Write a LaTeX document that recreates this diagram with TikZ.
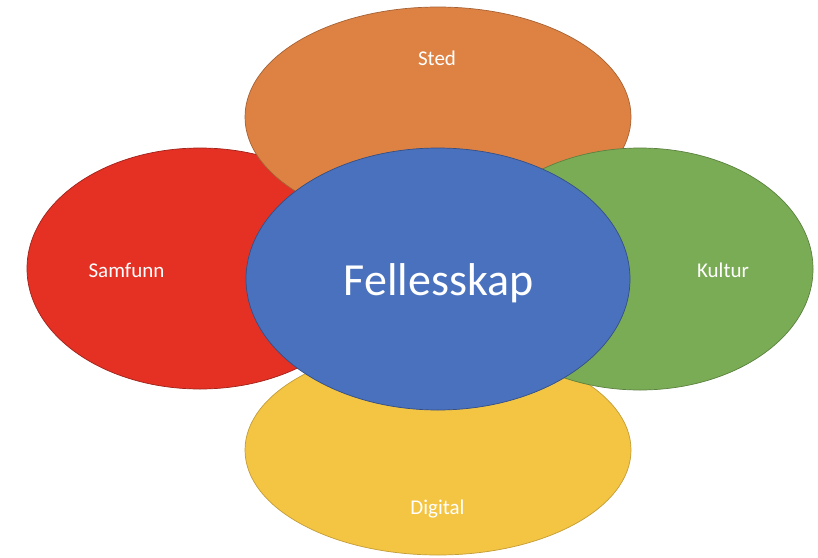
\documentclass[tikz,border=0pt]{standalone}
\usepackage{fontspec}
\setmainfont{Carlito}
\usetikzlibrary{shapes.geometric}
\definecolor{cOrange}{HTML}{DE8244}
\definecolor{cRed}{HTML}{E53024}
\definecolor{cGreen}{HTML}{7AAC55}
\definecolor{cBlue}{HTML}{4A71BE}
\definecolor{cYellow}{HTML}{F4C443}
\tikzset{
  blob/.style={ellipse, inner sep=0pt, line width=0.7pt},
  lbl/.style={anchor=base, text=white, font=\fontsize{21}{24}\selectfont, inner sep=0pt},
  biglbl/.style={anchor=base, text=white, font=\fontsize{46}{52}\selectfont, inner sep=0pt}
}
\begin{document}
\begin{tikzpicture}[x=1pt,y=-1pt]
\useasboundingbox (0,0) rectangle (818,557);
\fill[white] (0,0) rectangle (818,557);
\node[blob, fill=cYellow, draw=cYellow!80!black, minimum width=386pt, minimum height=210pt] (digital) at (438,450) {};
\node[blob, fill=cRed, draw=cRed!70!black, minimum width=346pt, minimum height=241pt] (samfunn) at (200,268.5) {};
\node[blob, fill=cOrange, draw=cOrange!75!black, minimum width=386pt, minimum height=220pt] (sted) at (438,117) {};
\node[blob, fill=cGreen, draw=cGreen!75!black, minimum width=346pt, minimum height=242pt] (kultur) at (640,269) {};
\node[blob, fill=cBlue, draw=cBlue!70!black, minimum width=384pt, minimum height=262pt] (felles) at (438,279) {};
\node[lbl] (tsted) at (437,65) {Sted};
\node[lbl] (tsamfunn) at (126.5,277) {Samfunn};
\node[lbl] (tkultur) at (723,277) {Kultur};
\node[lbl] (tdigital) at (437.5,514) {Digital};
\node[biglbl] (tfelles) at (438.5,295) {Fellesskap};
\end{tikzpicture}
\end{document}
